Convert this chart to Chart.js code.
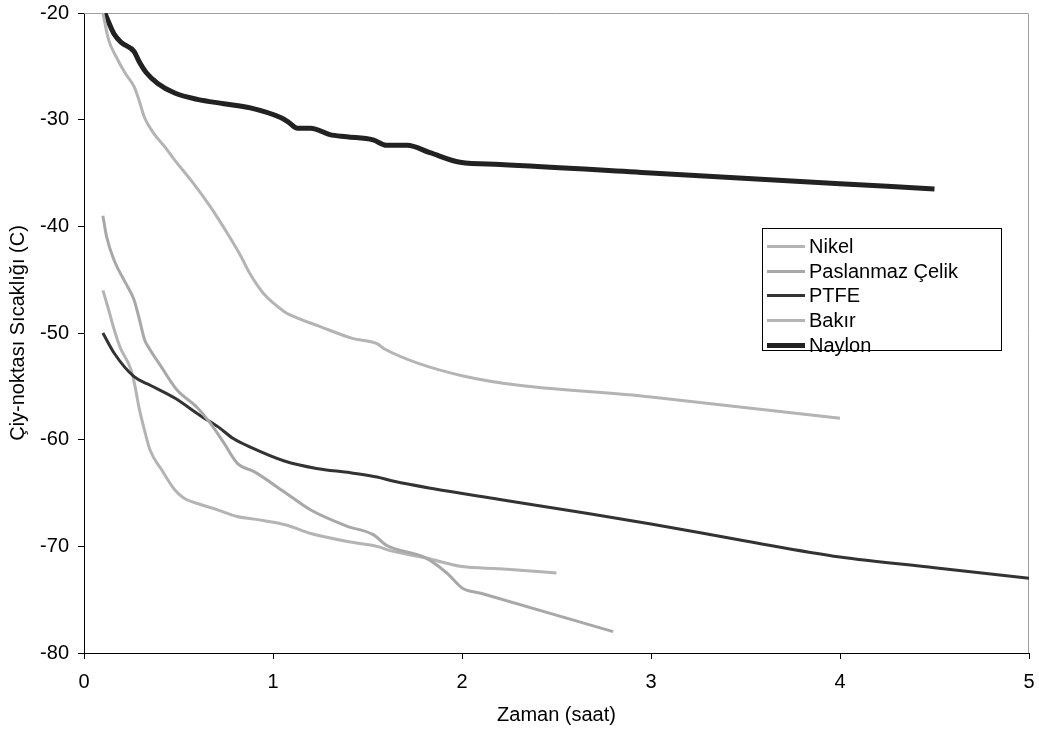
<!DOCTYPE html>
<html>
<head>
<meta charset="utf-8">
<script src="https://cdn.jsdelivr.net/npm/chart.js@4/dist/chart.umd.min.js"></script>
<style>
  body { margin: 0; background: #fff; }
  #wrap { position: relative; width: 1039px; height: 729px; }
  #legend {
    position: absolute; left: 762px; top: 228px; width: 240px; height: 123px;
    border: 1px solid #000; background: #fff; box-sizing: border-box;
    padding-top: 5px; font-family: "Liberation Sans", Arial, sans-serif; font-size: 20px;
  }
  #legend .row { display: flex; align-items: center; height: 24.7px; }
  #legend .swatch { width: 38px; margin-left: 4px; margin-right: 4px; }
</style>
</head>
<body>
<div id="wrap">
  <canvas id="myChart" width="1039" height="729"></canvas>
  <div id="legend"></div>
</div>
<script>
// series names (legend order)
const seriesNames = ["Nikel", "Paslanmaz Çelik", "PTFE", "Bakır", "Naylon"];

// time (saat) and dew-point (C) per series
const nikelTime = [0.10, 0.13, 0.17, 0.22, 0.265, 0.29, 0.32, 0.37, 0.43, 0.48, 0.58, 0.67, 0.76, 0.83, 0.88, 0.95, 1.06, 1.09, 1.25, 1.42, 1.55, 1.59, 2.0, 3.0, 4.0];
const nikelTemp = [-20, -22.5, -24.1, -25.7, -26.9, -28.1, -29.8, -31.3, -32.6, -33.8, -36.0, -38.2, -40.7, -42.8, -44.5, -46.3, -48.0, -48.3, -49.4, -50.5, -51.0, -51.5, -54.0, -56.0, -58.0];

const celikTime = [0.10, 0.12, 0.16, 0.22, 0.265, 0.29, 0.32, 0.34, 0.41, 0.49, 0.60, 0.67, 0.74, 0.81, 0.90, 1.06, 1.20, 1.39, 1.53, 1.60, 1.81, 1.92, 2.0, 2.1, 2.8];
const celikTemp = [-39.0, -41.0, -43.2, -45.3, -46.9, -48.5, -50.6, -51.3, -53.2, -55.3, -57.0, -58.5, -60.3, -62.2, -63.0, -64.9, -66.6, -68.1, -68.9, -69.9, -71.1, -72.5, -73.9, -74.4, -78.0];

const ptfeTime = [0.10, 0.16, 0.265, 0.35, 0.48, 0.62, 0.71, 0.79, 0.88, 1.06, 1.23, 1.41, 1.55, 1.64, 1.85, 2.2, 2.55, 3.0, 3.5, 4.0, 4.5, 5.0];
const ptfeTemp = [-50.0, -51.9, -54.1, -54.9, -56.1, -57.8, -58.8, -59.9, -60.7, -62.0, -62.7, -63.1, -63.5, -63.9, -64.6, -65.6, -66.6, -67.9, -69.5, -71.0, -72.0, -73.0];

const bakirTime = [0.10, 0.13, 0.16, 0.19, 0.25, 0.27, 0.29, 0.32, 0.35, 0.41, 0.48, 0.53, 0.62, 0.71, 0.81, 0.90, 1.07, 1.20, 1.41, 1.55, 1.62, 1.81, 2.0, 2.2, 2.5];
const bakirTemp = [-46.0, -47.8, -49.7, -51.3, -53.5, -55.0, -56.9, -59.1, -61.0, -62.8, -64.7, -65.5, -66.1, -66.6, -67.2, -67.45, -68.0, -68.8, -69.6, -70.0, -70.4, -71.1, -71.9, -72.1, -72.5];

const naylonTime = [0.11, 0.16, 0.20, 0.265, 0.29, 0.33, 0.39, 0.48, 0.60, 0.74, 0.88, 1.04, 1.08, 1.13, 1.20, 1.30, 1.39, 1.53, 1.60, 1.71, 1.83, 1.99, 2.2, 3.0, 4.0, 4.5];
const naylonTemp = [-20, -22.0, -22.8, -23.6, -24.5, -25.6, -26.6, -27.5, -28.1, -28.5, -28.9, -29.8, -30.2, -30.8, -30.8, -31.4, -31.6, -31.9, -32.4, -32.4, -33.1, -34.0, -34.2, -35.0, -36.0, -36.5];

const xTicks = [0, 1, 2, 3, 4, 5];
const yTicks = [-80, -70, -60, -50, -40, -30, -20];

const lineColors = ["#b4b4b4", "#a8a8a8", "#333333", "#b4b4b4", "#222222"];
const lineWidths = [3, 3, 3, 3, 5];

const allTime = [nikelTime, celikTime, ptfeTime, bakirTime, naylonTime];
const allTemp = [nikelTemp, celikTemp, ptfeTemp, bakirTemp, naylonTemp];

const FONT = { family: "'Liberation Sans', Arial, sans-serif", size: 20 };

const datasets = seriesNames.map((name, i) => ({
  label: name,
  data: allTime[i].map((t, j) => ({ x: t, y: allTemp[i][j] })),
  showLine: true,
  borderColor: lineColors[i],
  backgroundColor: lineColors[i],
  borderWidth: lineWidths[i],
  pointRadius: 0,
  cubicInterpolationMode: 'monotone',
  clip: 0
}));

// gray frame on top and right of the plot area
const framePlugin = {
  id: 'frame',
  beforeDatasetsDraw(chart) {
    const { ctx, chartArea: a } = chart;
    ctx.save();
    ctx.strokeStyle = '#a0a0a0';
    ctx.lineWidth = 1;
    ctx.beginPath();
    ctx.moveTo(a.left, a.top + 0.5);
    ctx.lineTo(a.right - 0.5, a.top + 0.5);
    ctx.lineTo(a.right - 0.5, a.bottom);
    ctx.stroke();
    ctx.restore();
  }
};

const ctx = document.getElementById('myChart').getContext('2d');
const chart = new Chart(ctx, {
  type: 'scatter',
  data: { datasets },
  plugins: [framePlugin],
  options: {
    responsive: false,
    animation: false,
    layout: { padding: { top: 13, right: 10, left: 0, bottom: 0 } },
    plugins: { legend: { display: false }, tooltip: { enabled: false } },
    scales: {
      x: {
        type: 'linear', min: 0, max: 5,
        afterFit: s => { s.height = 76; s.paddingLeft = 0; s.paddingRight = 0; },
        afterBuildTicks: s => { s.ticks = xTicks.map(v => ({ value: v })); },
        ticks: { color: '#000', font: FONT, padding: 11 },
        grid: { drawOnChartArea: false, tickLength: 6, color: '#000' },
        border: { color: '#000', width: 1 },
        title: { display: true, text: 'Zaman (saat)', color: '#000', font: FONT, padding: { top: 4, bottom: 2 } }
      },
      y: {
        type: 'linear', min: -80, max: -20,
        afterFit: s => { s.width = 84; s.paddingTop = 0; s.paddingBottom = 0; },
        afterBuildTicks: s => { s.ticks = yTicks.map(v => ({ value: v })); },
        ticks: { color: '#000', font: FONT, padding: 9 },
        grid: { drawOnChartArea: false, tickLength: 6, color: '#000' },
        border: { color: '#000', width: 1 },
        title: { display: true, text: 'Çiy-noktası Sıcaklığı (C)', color: '#000', font: FONT, padding: { top: 6, bottom: 4 } }
      }
    }
  }
});

// legend inside the plot, built from the same series
const legend = document.getElementById('legend');
seriesNames.forEach((name, i) => {
  const row = document.createElement('div');
  row.className = 'row';
  const sw = document.createElement('div');
  sw.className = 'swatch';
  sw.style.height = lineWidths[i] + 'px';
  sw.style.background = lineColors[i];
  const label = document.createElement('span');
  label.textContent = name;
  row.appendChild(sw);
  row.appendChild(label);
  legend.appendChild(row);
});
</script>
</body>
</html>
